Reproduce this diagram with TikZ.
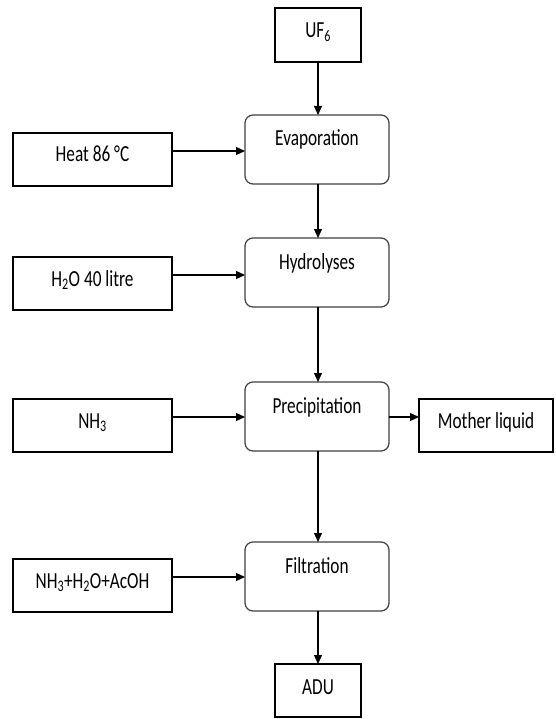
\documentclass[tikz,border=0pt]{standalone}
\usepackage{fontspec}
\setmainfont{Carlito}
\usetikzlibrary{arrows.meta}
\newcommand{\sq}[1]{\scalebox{0.75}[1]{#1}}
\begin{document}
\begin{tikzpicture}[x=1pt,y=-1pt,
  every node/.style={font=\fontsize{23}{27}\selectfont, inner sep=0pt, outer sep=0pt, anchor=north west},
  rect/.style={draw, line width=1.2pt, minimum width=#1, text height=29pt, text depth=24pt},
  proc/.style={draw=black!75, line width=1.2pt, rounded corners=8pt, minimum width=144pt, text height=31pt, text depth=38pt},
  arr/.style={-{Triangle[length=9pt,width=8pt]}, line width=1.2pt}
]
\fill[white] (0,0) rectangle (555,719);
\useasboundingbox (0,0) rectangle (555,719);

\node[rect=86pt, text height=30pt] (uf6) at (275,8) {\sq{UF\textsubscript{6}}};
\node[proc] (evap) at (245,115) {\sq{Evaporation}};
\node[proc] (hyd) at (245,238) {\sq{Hydrolyses}};
\node[proc] (prec) at (245,382) {\sq{Precipitation}};
\node[proc] (filt) at (245,542) {\sq{Filtration}};
\node[rect=86pt, text height=30pt, text depth=23pt] (adu) at (275,664) {\sq{ADU}};

\node[rect=159pt] (heat) at (13,133) {\sq{Heat 86 °C}};
\node[rect=159pt] (water) at (13,257) {\sq{H\textsubscript{2}O 40 litre}};
\node[rect=159pt] (nh3) at (13,399) {\sq{NH\textsubscript{3}}};
\node[rect=159pt] (mix) at (13,559) {\sq{NH\textsubscript{3}+H\textsubscript{2}O+AcOH}};
\node[rect=134pt] (mother) at (419,399) {\sq{Mother liquid}};

\draw[arr] (uf6.south) -- (uf6.south |- evap.north);
\draw[arr] (uf6.south |- evap.south) -- (uf6.south |- hyd.north);
\draw[arr] (uf6.south |- hyd.south) -- (uf6.south |- prec.north);
\draw[arr] (uf6.south |- prec.south) -- (uf6.south |- filt.north);
\draw[arr] (uf6.south |- filt.south) -- (adu.north);

\draw[arr] ([yshift=-18pt]heat.north east) -- ([yshift=-18pt]heat.north east -| evap.west);
\draw[arr] ([yshift=-18pt]water.north east) -- ([yshift=-18pt]water.north east -| hyd.west);
\draw[arr] ([yshift=-18pt]nh3.north east) -- ([yshift=-18pt]nh3.north east -| prec.west);
\draw[arr] ([yshift=-18pt]mix.north east) -- ([yshift=-18pt]mix.north east -| filt.west);
\draw[arr] ([yshift=-18pt]mother.north west -| prec.east) -- ([yshift=-18pt]mother.north west);
\end{tikzpicture}
\end{document}
